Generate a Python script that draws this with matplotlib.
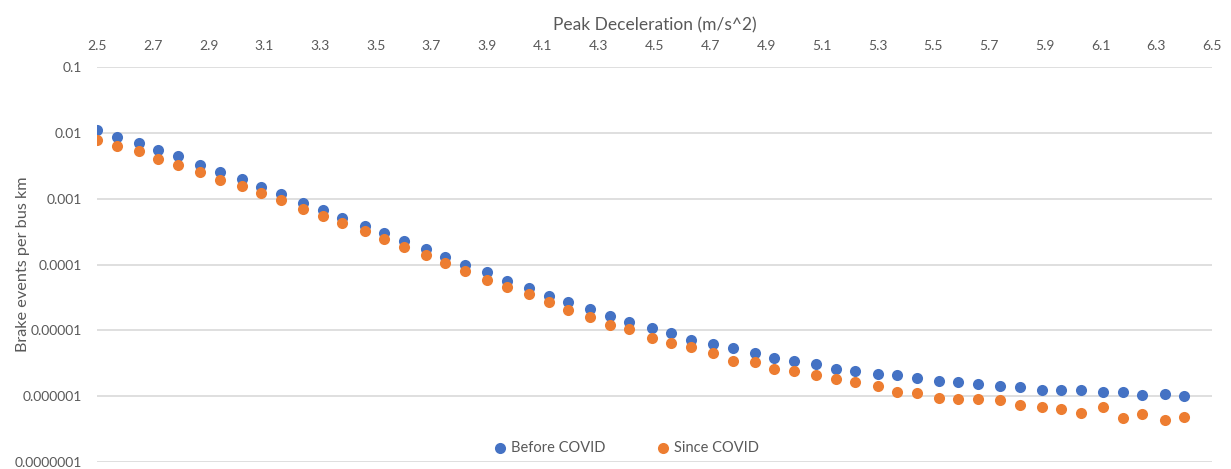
# Brake events per bus km against peak deceleration, before and since COVID
import matplotlib.pyplot as plt
from matplotlib.ticker import FixedLocator, NullLocator

# Peak deceleration bins (m/s^2)
decel = [2.50, 2.57, 2.65, 2.72, 2.79, 2.87, 2.94, 3.02, 3.09, 3.16,
         3.24, 3.31, 3.38, 3.46, 3.53, 3.60, 3.68, 3.75, 3.82, 3.90,
         3.97, 4.05, 4.12, 4.19, 4.27, 4.34, 4.41, 4.49, 4.56, 4.63,
         4.71, 4.78, 4.86, 4.93, 5.00, 5.08, 5.15, 5.22, 5.30, 5.37,
         5.44, 5.52, 5.59, 5.66, 5.74, 5.81, 5.89, 5.96, 6.03, 6.11,
         6.18, 6.25, 6.33, 6.40]

# Brake events per bus km
before_covid = [1.10e-2, 8.7e-3, 6.95e-3, 5.5e-3, 4.4e-3, 3.3e-3, 2.58e-3, 1.97e-3, 1.49e-3, 1.16e-3,
                8.65e-4, 6.7e-4, 5.05e-4, 3.87e-4, 2.99e-4, 2.24e-4, 1.71e-4, 1.28e-4, 1.0e-4, 7.6e-5,
                5.65e-5, 4.43e-5, 3.38e-5, 2.68e-5, 2.09e-5, 1.68e-5, 1.35e-5, 1.07e-5, 9.2e-6, 7.1e-6,
                6.25e-6, 5.3e-6, 4.56e-6, 3.83e-6, 3.4e-6, 3.1e-6, 2.63e-6, 2.45e-6, 2.19e-6, 2.08e-6,
                1.9e-6, 1.71e-6, 1.63e-6, 1.54e-6, 1.44e-6, 1.37e-6, 1.25e-6, 1.25e-6, 1.25e-6, 1.14e-6,
                1.15e-6, 1.04e-6, 1.09e-6, 1.01e-6]
since_covid = [7.9e-3, 6.26e-3, 5.26e-3, 4.07e-3, 3.22e-3, 2.52e-3, 1.93e-3, 1.57e-3, 1.21e-3, 9.4e-4,
               7.0e-4, 5.5e-4, 4.2e-4, 3.25e-4, 2.46e-4, 1.83e-4, 1.38e-4, 1.04e-4, 8.1e-5, 5.9e-5,
               4.6e-5, 3.54e-5, 2.74e-5, 2.07e-5, 1.61e-5, 1.2e-5, 1.03e-5, 7.7e-6, 6.4e-6, 5.55e-6,
               4.5e-6, 3.48e-6, 3.25e-6, 2.61e-6, 2.4e-6, 2.08e-6, 1.8e-6, 1.67e-6, 1.42e-6, 1.15e-6,
               1.13e-6, 9.3e-7, 9.0e-7, 9.1e-7, 8.8e-7, 7.3e-7, 6.9e-7, 6.44e-7, 5.52e-7, 6.95e-7,
               4.7e-7, 5.33e-7, 4.39e-7, 4.86e-7]

x_ticks = [2.5, 2.7, 2.9, 3.1, 3.3, 3.5, 3.7, 3.9, 4.1, 4.3, 4.5,
           4.7, 4.9, 5.1, 5.3, 5.5, 5.7, 5.9, 6.1, 6.3, 6.5]
y_ticks = [1e-1, 1e-2, 1e-3, 1e-4, 1e-5, 1e-6, 1e-7]
y_tick_labels = ["0.1", "0.01", "0.001", "0.0001", "0.00001", "0.000001", "0.0000001"]

plt.rcParams["font.family"] = ["Lato", "DejaVu Sans"]
grey = "#595959"

fig = plt.figure(figsize=(12.31, 4.69), dpi=100)
ax = fig.add_axes([97 / 1231, 7 / 469, 1115 / 1231, 395 / 469])

ax.scatter(decel, before_covid, s=64, color="#4472C4", linewidths=0,
           label="Before COVID", zorder=3)
ax.scatter(decel, since_covid, s=64, color="#ED7D31", linewidths=0,
           label="Since COVID", zorder=4)

ax.set_yscale("log")
ax.set_ylim(1e-7, 1e-1)
ax.set_xlim(2.5, 6.5)

# x axis sits on top of the plot
ax.xaxis.tick_top()
ax.xaxis.set_label_position("top")
ax.xaxis.set_major_locator(FixedLocator(x_ticks))
ax.xaxis.set_major_formatter(lambda v, pos: f"{v:.1f}")

ax.yaxis.set_major_locator(FixedLocator(y_ticks))
ax.yaxis.set_minor_locator(NullLocator())
ax.set_yticklabels(y_tick_labels)

ax.tick_params(length=0, colors=grey, labelsize=10)
ax.tick_params(axis="x", pad=11)
ax.tick_params(axis="y", pad=11)
ax.grid(axis="y", color="#d9d9d9", linewidth=1.2)
ax.grid(axis="x", visible=False)
ax.set_axisbelow(True)
for spine in ax.spines.values():
    spine.set_visible(False)

ax.set_xlabel("Peak Deceleration (m/s^2)", color=grey, fontsize=12.5, labelpad=7)
ax.set_ylabel("Brake events per bus km", color=grey, fontsize=11.7, va="center")
ax.yaxis.set_label_coords(-0.066, 0.5)

fig.legend(loc="center", bbox_to_anchor=(0.509, 0.045), ncol=2, frameon=False,
           fontsize=10.5, labelcolor=grey, handlelength=0.8, handletextpad=0.3,
           columnspacing=3.6, scatterpoints=1)

fig.savefig("out.png", dpi=100)
